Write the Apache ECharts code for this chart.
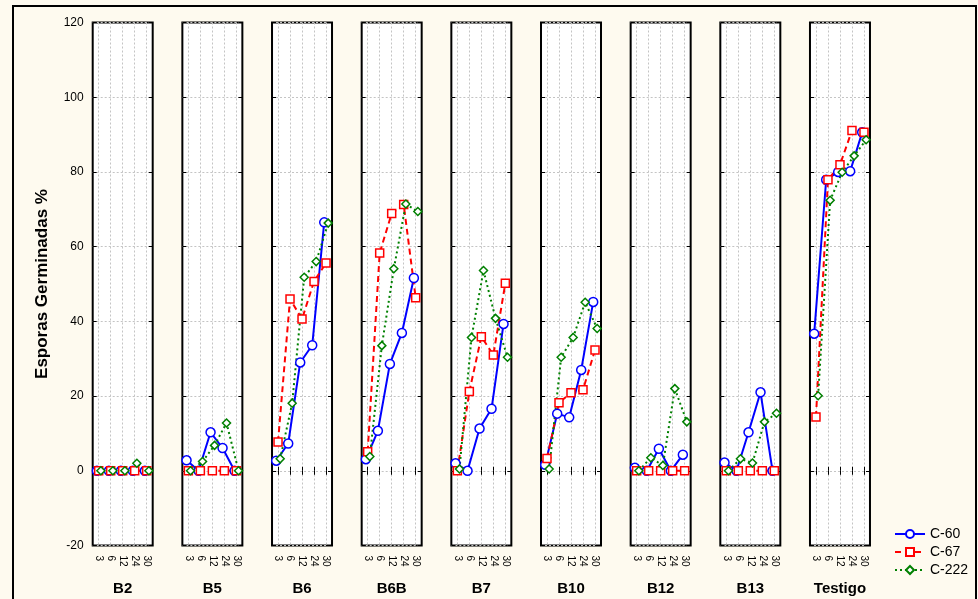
<!DOCTYPE html>
<html><head><meta charset="utf-8">
<script src="https://cdn.jsdelivr.net/npm/echarts@6/dist/echarts.min.js"></script>
<style>html,body{margin:0;padding:0;background:#fefaef;}#c{width:978px;height:599px;}</style>
</head><body><div id="c"></div>
<script>
const categories = ['3', '6', '12', '24', '30'];
const panels = ['B2', 'B5', 'B6', 'B6B', 'B7', 'B10', 'B12', 'B13', 'Testigo'];
const yTicks = [-20, 0, 20, 40, 60, 80, 100, 120];
const c60 = [
  [0, 0, 0, 0, 0],
  [2.8, 0, 10.3, 6.1, 0],
  [2.7, 7.3, 29.0, 33.6, 66.5],
  [3.1, 10.7, 28.6, 36.9, 51.6],
  [2.0, 0, 11.3, 16.6, 39.3],
  [1.6, 15.3, 14.3, 27.0, 45.2],
  [0.8, 0, 5.9, 0, 4.3],
  [2.2, 0, 10.3, 21.0, 0],
  [36.7, 77.9, 80.0, 80.2, 90.6]
];
const c67 = [
  [0, 0, 0, 0, 0],
  [0, 0, 0, 0, 0],
  [7.7, 46.0, 40.6, 50.7, 55.6],
  [5.1, 58.3, 68.9, 71.3, 46.3],
  [0, 21.2, 35.9, 31.0, 50.2],
  [3.3, 18.2, 20.9, 21.7, 32.3],
  [0, 0, 0, 0, 0],
  [0, 0, 0, 0, 0],
  [14.4, 77.9, 81.9, 91.1, 90.6]
];
const c222 = [
  [0, 0, 0, 2.0, 0],
  [0, 2.5, 6.8, 12.8, 0],
  [3.2, 18.1, 51.8, 56.0, 66.3],
  [3.8, 33.5, 54.1, 71.4, 69.4],
  [0.5, 35.7, 53.6, 40.8, 30.4],
  [0.5, 30.4, 35.7, 45.1, 38.1],
  [0, 3.5, 1.4, 22.0, 13.1],
  [0, 3.2, 2.1, 13.1, 15.4],
  [20.1, 72.4, 79.9, 84.3, 88.6]
];

(function () {
const FONT = '"Liberation Sans", Arial, sans-serif';
const seriesDefs = [
  { name: 'C-60', data: c60, color: '#0000ff', type: 'solid', symbol: 'circle', size: 9, off: -0.15 },
  { name: 'C-67', data: c67, color: '#ff0000', type: [6, 4], symbol: 'rect', size: 8, off: 0 },
  { name: 'C-222', data: c222, color: '#008000', type: [2, 3], symbol: 'diamond', size: 8, off: 0.18 }
];

const grids = [], xAxes = [], yAxes = [], series = [];
const left0 = 92.7, step = 89.66, pw = 60, gTop = 22.5, ph = 523;
const gridLine = { show: true, interval: 0, lineStyle: { color: '#c4c4c4', width: 1, type: [2, 2] } };
const tick = { show: true, inside: true, interval: 0, length: 4, lineStyle: { color: '#000', width: 1 } };

panels.forEach((p, i) => {
  grids.push({ left: left0 + i * step, top: gTop, width: pw, height: ph, show: true,
    outerBoundsMode: 'none', containLabel: false,
    backgroundColor: '#ffffff', borderColor: '#000', borderWidth: 2 });
  xAxes.push({ type: 'category', gridIndex: i, data: categories, position: 'bottom', boundaryGap: true,
    axisLine: { show: false }, axisTick: Object.assign({ alignWithLabel: true }, tick),
    splitLine: Object.assign({ alignWithLabel: true }, gridLine),
    axisLabel: { show: true, interval: 0, rotate: -90, fontSize: 10, margin: 10, color: '#000', fontFamily: FONT, hideOverlap: false },
    name: p, nameLocation: 'middle', nameGap: 36,
    nameTextStyle: { fontSize: 15, fontWeight: 'bold', color: '#000', fontFamily: FONT } });
  xAxes.push({ type: 'category', gridIndex: i, data: categories, position: 'top', boundaryGap: true,
    axisLine: { show: false }, axisTick: Object.assign({ alignWithLabel: true }, tick),
    splitLine: { show: false }, axisLabel: { show: false, interval: 0 } });
  xAxes.push({ type: 'value', gridIndex: i, min: 0, max: categories.length, show: false });
  const yBase = { type: 'value', gridIndex: i, min: yTicks[0], max: yTicks[yTicks.length - 1],
    interval: yTicks[1] - yTicks[0], axisLine: { show: false }, axisTick: tick };
  yAxes.push(Object.assign({}, yBase, { position: 'left', splitLine: gridLine,
    axisLabel: { show: i === 0, fontSize: 12, margin: 9, color: '#000', fontFamily: FONT },
    name: i === 0 ? 'Esporas Germinadas %' : '', nameLocation: 'middle', nameGap: 42, nameRotate: 90,
    nameTextStyle: { fontSize: 17, fontWeight: 'bold', color: '#000', fontFamily: FONT } }));
  yAxes.push(Object.assign({}, yBase, { position: 'right', splitLine: { show: false }, axisLabel: { show: false } }));
  seriesDefs.forEach(s => {
    series.push({ type: 'line', name: s.name, xAxisIndex: i * 3 + 2, yAxisIndex: i * 2,
      data: s.data[i].map((v, k) => [k + 0.5 + s.off, v]),
      symbol: s.symbol, symbolSize: s.size, showAllSymbol: true,
      lineStyle: { color: s.color, width: 2, type: s.type },
      itemStyle: { color: '#ffffff', borderColor: s.color, borderWidth: 1.5 },
      emphasis: { disabled: true }, animation: false });
  });
});

const chart = echarts.init(document.getElementById('c'), null, { renderer: 'canvas' });
chart.setOption({
  backgroundColor: '#fefaef',
  animation: false,
  graphic: [{ type: 'rect', shape: { x: 13, y: 6, width: 963, height: 600 },
    style: { fill: 'none', stroke: '#000', lineWidth: 2 }, z: 100, silent: true }],
  legend: { orient: 'vertical', left: 889, top: 522, itemWidth: 30, itemHeight: 10, itemGap: 4,
    textStyle: { fontSize: 14, color: '#000', fontFamily: FONT },
    data: seriesDefs.map(s => s.name) },
  grid: grids, xAxis: xAxes, yAxis: yAxes, series: series
});
})();
</script></body></html>
